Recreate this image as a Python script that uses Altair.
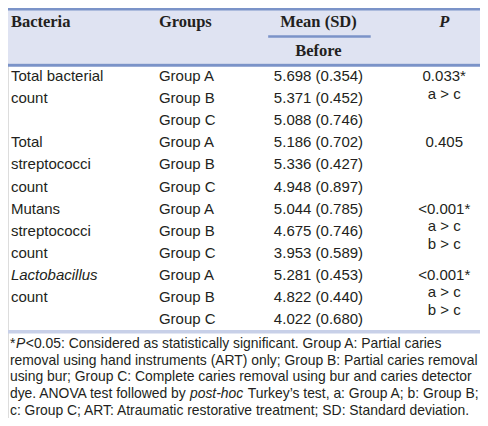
import altair as alt
import pandas as pd

# ---------------- data ----------------
header = ["Bacteria", "Groups", "Mean (SD)", "P"]
subheader = "Before"
bacteria_lines = [["Total bacterial", "count"],
                  ["Total", "streptococci", "count"],
                  ["Mutans", "streptococci", "count"],
                  ["Lactobacillus", "count"]]
bacteria_first_italic = [False, False, False, True]
groups = ["Group A", "Group B", "Group C"]
means = [[5.698, 5.371, 5.088],
         [5.186, 5.336, 4.948],
         [5.044, 4.675, 3.953],
         [5.281, 4.822, 4.022]]
sds = [[0.354, 0.452, 0.746],
       [0.702, 0.427, 0.897],
       [0.785, 0.746, 0.589],
       [0.453, 0.440, 0.680]]
p_values = ["0.033*", "0.405", "<0.001*", "<0.001*"]
posthoc = [["a > c"], [], ["a > c", "b > c"], ["a > c", "b > c"]]
footnote = [
    [("*", False), ("P", True), ("<0.05: Considered as statistically significant. Group A: Partial caries", False)],
    [("removal using hand instruments (ART) only; Group B: Partial caries removal", False)],
    [("using bur; Group C: Complete caries removal using bur and caries detector", False)],
    [("dye. ANOVA test followed by ", False), ("post-hoc", True), (" Turkey\u2019s test, a: Group A; b: Group B;", False)],
    [("c: Group C; ART: Atraumatic restorative treatment; SD: Standard deviation.", False)],
]

# ---------------- layout ----------------
W_REF, H_REF = 488, 426
W, H = 472, 410
SX = W / W_REF
X_BACT, X_GROUP, X_MEAN, X_P = 3, 156, 321, 451
Y_HEAD, Y_SUB = 15, 45
ROW0, ROW_STEP, SUB_STEP = 71, 22.9, 18.3
FOOT0, FOOT_STEP = 349, 17.4
SERIF = "Liberation Serif"
SANS = "Liberation Sans"
TXT = "#231f20"
BLUE = "#7b93c8"
HEAD_BG = "#dfe3f2"
LIGHT = "#c8d0e8"
FS_HEAD, FS_BODY, FS_FOOT = 16.5, 15, 13.9

ARIAL = {' ': 278, '*': 389, 'P': 667, 'd': 556, 'y': 500, 'e': 556, '.': 278, 'A': 667,
         'N': 722, 'O': 778, 'V': 667, 't': 278, 's': 500, 'f': 278, 'o': 556, 'l': 222,
         'w': 722, 'b': 556, 'p': 556, '-': 333, 'h': 556, 'c': 500}


def em(s):
    return sum(ARIAL.get(c, 556) for c in s) / 1000.0


xs = alt.Scale(domain=[0, W_REF])
ys = alt.Scale(domain=[0, H_REF], reverse=True)

# header
head_left = pd.DataFrame({"x": [X_BACT, X_GROUP], "y": [Y_HEAD, Y_HEAD], "t": header[:2]})
head_center = pd.DataFrame({"x": [X_MEAN, X_MEAN], "y": [Y_HEAD, Y_SUB], "t": [header[2], subheader]})
head_p = pd.DataFrame({"x": [X_P], "y": [Y_HEAD], "t": [header[3]]})

# body
left_rows, italic_rows, center_rows = [], [], []
for b in range(4):
    base = b * 3
    for i, line in enumerate(bacteria_lines[b]):
        rec = {"x": X_BACT, "y": ROW0 + ROW_STEP * (base + i), "t": line}
        if i == 0 and bacteria_first_italic[b]:
            italic_rows.append(rec)
        else:
            left_rows.append(rec)
    for g in range(3):
        y = ROW0 + ROW_STEP * (base + g)
        left_rows.append({"x": X_GROUP, "y": y, "t": groups[g]})
        center_rows.append({"x": X_MEAN, "y": y, "t": f"{means[b][g]:.3f} ({sds[b][g]:.3f})"})
    y0 = ROW0 + ROW_STEP * base
    center_rows.append({"x": X_P, "y": y0, "t": p_values[b]})
    for k, s in enumerate(posthoc[b]):
        center_rows.append({"x": X_P, "y": y0 + SUB_STEP * (k + 1), "t": s})

# footnote (segments placed one after another)
foot_reg, foot_it = [], []
for li, segs in enumerate(footnote):
    x = 2.0
    y = FOOT0 + FOOT_STEP * li
    for si, (text, it) in enumerate(segs):
        lead = len(text) - len(text.lstrip(" "))
        xx = x + em(" " * lead) * FS_FOOT / SX
        rec = {"x": xx, "y": y, "t": text.strip(" ")}
        (foot_it if it else foot_reg).append(rec)
        if si < len(segs) - 1:
            x += em(text.rstrip(" ")) * FS_FOOT / SX + (1.6 if text.endswith(" ") else 0.6)


def text_layer(df, font, size, align, weight="normal", style="normal"):
    return alt.Chart(pd.DataFrame(df)).mark_text(
        font=font, fontSize=size, align=align, baseline="middle",
        fontWeight=weight, fontStyle=style, color=TXT
    ).encode(
        x=alt.X("x:Q", scale=xs, axis=None),
        y=alt.Y("y:Q", scale=ys, axis=None),
        text="t:N",
    )


bg = alt.Chart(pd.DataFrame({"x": [0], "x2": [W_REF], "y": [2], "y2": [58]})).mark_rect(
    color=HEAD_BG).encode(
    x=alt.X("x:Q", scale=xs, axis=None), x2="x2:Q",
    y=alt.Y("y:Q", scale=ys, axis=None), y2="y2:Q")

rules_df = pd.DataFrame({
    "x": [0, 0, 269, 0], "x2": [W_REF, W_REF, 375, W_REF],
    "y": [1.2, 59.5, 29.5, 336.5],
    "c": ["a", "a", "b", "c"],
    "w": [2.5, 3, 2.5, 3.5],
})
rules = alt.Chart(rules_df).mark_rule().encode(
    x=alt.X("x:Q", scale=xs, axis=None), x2="x2:Q",
    y=alt.Y("y:Q", scale=ys, axis=None),
    color=alt.Color("c:N", scale=alt.Scale(domain=["a", "b", "c"], range=[BLUE, BLUE, LIGHT]), legend=None),
    strokeWidth=alt.StrokeWidth("w:Q", scale=None, legend=None),
)

layers = [
    bg, rules,
    text_layer(head_left, SERIF, FS_HEAD, "left", weight="bold"),
    text_layer(head_center, SERIF, FS_HEAD, "center", weight="bold"),
    text_layer(head_p, SERIF, FS_HEAD, "center", weight="bold", style="italic"),
    text_layer(left_rows, SANS, FS_BODY, "left"),
    text_layer(italic_rows, SANS, FS_BODY, "left", style="italic"),
    text_layer(center_rows, SANS, FS_BODY, "center"),
    text_layer(foot_reg, SANS, FS_FOOT, "left"),
    text_layer(foot_it, SANS, FS_FOOT, "left", style="italic"),
]

chart = alt.layer(*layers).properties(
    width=W, height=H, padding=0, autosize=alt.AutoSizeParams(type="none")
).configure_view(stroke=None).configure(background="white")

chart.save("out.html", embed_options={"renderer": "svg", "actions": False})
